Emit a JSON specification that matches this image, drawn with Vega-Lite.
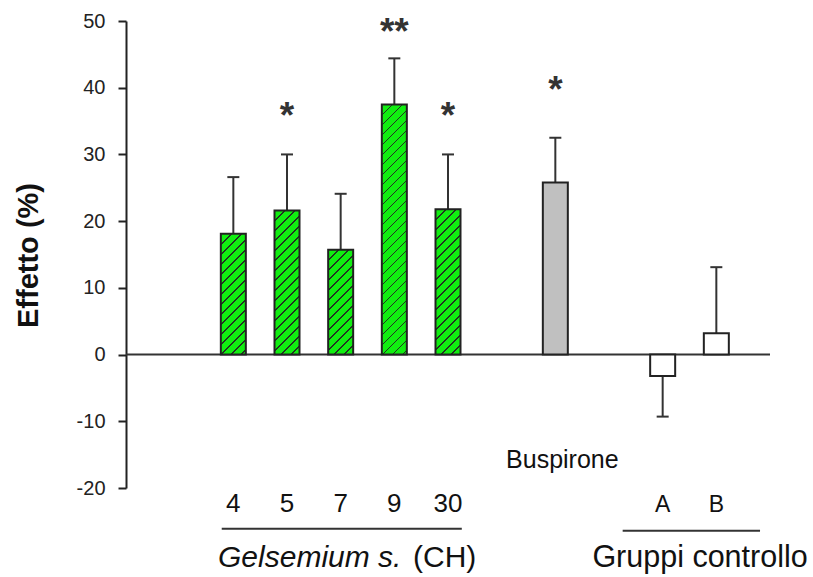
{
"$schema": "https://vega.github.io/schema/vega-lite/v6.json",
"width": 644, "height": 467,
"autosize": {"type": "none"},
"padding": {"left": 126, "top": 21, "right": 43, "bottom": 89},
"background": "white",
"config": {"view": {"stroke": null}, "font": "Liberation Sans"},
"resolve": {"axis": {"y": "independent", "x": "independent"}},
"data": {"values": [
{"name":"4","group":"Gelsemium","val":18.1,"err":26.6,"sig":""},
{"name":"5","group":"Gelsemium","val":21.6,"err":30.0,"sig":"*"},
{"name":"7","group":"Gelsemium","val":15.7,"err":24.1,"sig":""},
{"name":"9","group":"Gelsemium","val":37.5,"err":44.4,"sig":"**"},
{"name":"30","group":"Gelsemium","val":21.8,"err":30.0,"sig":"*"},
{"name":"Buspirone","group":"Buspirone","val":25.8,"err":32.5,"sig":"*"},
{"name":"A","group":"Controllo","val":-3.2,"err":-9.3,"sig":""},
{"name":"B","group":"Controllo","val":3.2,"err":13.1,"sig":""}
]},
"layer": [
{"data": {"values": [{}]}, "mark": {"type": "rule", "stroke": "#333", "strokeWidth": 2},
 "encoding": {"y": {"datum": 0, "type": "quantitative", "scale": {"domain": [-20, 50], "nice": false, "zero": false},
   "axis": {"values": [-20,-10,0,10,20,30,40,50], "labelExpr": "'' + datum.value", "title": "Effetto (%)", "titleFont": "Liberation Sans", "titleFontSize": 29, "titleFontWeight": "bold", "titleColor": "#111", "titleX": -89, "titleY": 234, "titleBaseline": "alphabetic", "titleAngle": -90, "titleAlign": "center",
    "labelFont": "Liberation Sans", "labelFontSize": 20, "labelColor": "#222", "labelPadding": 13, "tickSize": 8, "tickColor": "#222", "tickWidth": 2, "domainColor": "#222", "domainWidth": 2, "grid": false}}}},
{"mark": {"type": "rule", "stroke": "#333", "strokeWidth": 2},
 "encoding": {
  "x": {"field": "name", "type": "nominal", "scale": {"type": "point", "domain": ["g0","4","5","7","9","30","g1","Buspirone","g2","A","B"], "padding": 1, "align": 0.5}, "axis": null},
  "y": {"field": "val", "type": "quantitative", "scale": {"domain": [-20, 50], "nice": false, "zero": false}, "axis": null},
  "y2": {"field": "err"}}},
{"mark": {"type": "tick", "orient": "horizontal", "size": 12, "thickness": 2, "color": "#333", "opacity": 1},
 "encoding": {
  "x": {"field": "name", "type": "nominal", "scale": {"type": "point", "domain": ["g0","4","5","7","9","30","g1","Buspirone","g2","A","B"], "padding": 1, "align": 0.5}, "axis": null},
  "y": {"field": "err", "type": "quantitative", "scale": {"domain": [-20, 50], "nice": false, "zero": false}, "axis": null}}},
{"mark": {"type": "bar", "width": 25, "stroke": "#222", "strokeWidth": 2, "opacity": 1},
 "encoding": {
  "x": {"field": "name", "type": "nominal", "scale": {"type": "point", "domain": ["g0","4","5","7","9","30","g1","Buspirone","g2","A","B"], "padding": 1, "align": 0.5}, "axis": null},
  "y": {"field": "val", "type": "quantitative", "scale": {"domain": [-20, 50], "nice": false, "zero": false}, "axis": null},
  "y2": {"datum": 0},
  "fill": {"condition": [
   {"test": "datum.name==='4'", "value": {"gradient": "linear", "x1": 0, "y1": 0, "x2": 0.65762, "y2": 3.17639, "stops": [
{"offset":0,"color":"#1e1"},
{"offset":0.025,"color":"#1e1"},{"offset":0.025,"color":"#232"},{"offset":0.029,"color":"#232"},{"offset":0.029,"color":"#1e1"},
{"offset":0.05,"color":"#1e1"},{"offset":0.05,"color":"#232"},{"offset":0.054,"color":"#232"},{"offset":0.054,"color":"#1e1"},
{"offset":0.075,"color":"#1e1"},{"offset":0.075,"color":"#232"},{"offset":0.079,"color":"#232"},{"offset":0.079,"color":"#1e1"},
{"offset":0.1,"color":"#1e1"},{"offset":0.1,"color":"#232"},{"offset":0.104,"color":"#232"},{"offset":0.104,"color":"#1e1"},
{"offset":0.125,"color":"#1e1"},{"offset":0.125,"color":"#232"},{"offset":0.129,"color":"#232"},{"offset":0.129,"color":"#1e1"},
{"offset":0.15,"color":"#1e1"},{"offset":0.15,"color":"#232"},{"offset":0.154,"color":"#232"},{"offset":0.154,"color":"#1e1"},
{"offset":0.175,"color":"#1e1"},{"offset":0.175,"color":"#232"},{"offset":0.179,"color":"#232"},{"offset":0.179,"color":"#1e1"},
{"offset":0.2,"color":"#1e1"},{"offset":0.2,"color":"#232"},{"offset":0.204,"color":"#232"},{"offset":0.204,"color":"#1e1"},
{"offset":0.225,"color":"#1e1"},{"offset":0.225,"color":"#232"},{"offset":0.229,"color":"#232"},{"offset":0.229,"color":"#1e1"},
{"offset":0.25,"color":"#1e1"},{"offset":0.25,"color":"#232"},{"offset":0.254,"color":"#232"},{"offset":0.254,"color":"#1e1"},
{"offset":0.275,"color":"#1e1"},{"offset":0.275,"color":"#232"},{"offset":0.279,"color":"#232"},{"offset":0.279,"color":"#1e1"},
{"offset":0.3,"color":"#1e1"},{"offset":0.3,"color":"#232"},{"offset":0.304,"color":"#232"},{"offset":0.304,"color":"#1e1"},
{"offset":0.325,"color":"#1e1"},{"offset":0.325,"color":"#232"},{"offset":0.329,"color":"#232"},{"offset":0.329,"color":"#1e1"},
{"offset":0.35,"color":"#1e1"},{"offset":0.35,"color":"#232"},{"offset":0.354,"color":"#232"},{"offset":0.354,"color":"#1e1"},
{"offset":1,"color":"#1e1"}]}},
   {"test": "datum.name==='5'", "value": {"gradient": "linear", "x1": 0, "y1": 0, "x2": 0.46749, "y2": 2.69469, "stops": [
{"offset":0,"color":"#1e1"},
{"offset":0.025,"color":"#1e1"},{"offset":0.025,"color":"#232"},{"offset":0.029,"color":"#232"},{"offset":0.029,"color":"#1e1"},
{"offset":0.05,"color":"#1e1"},{"offset":0.05,"color":"#232"},{"offset":0.054,"color":"#232"},{"offset":0.054,"color":"#1e1"},
{"offset":0.075,"color":"#1e1"},{"offset":0.075,"color":"#232"},{"offset":0.079,"color":"#232"},{"offset":0.079,"color":"#1e1"},
{"offset":0.1,"color":"#1e1"},{"offset":0.1,"color":"#232"},{"offset":0.104,"color":"#232"},{"offset":0.104,"color":"#1e1"},
{"offset":0.125,"color":"#1e1"},{"offset":0.125,"color":"#232"},{"offset":0.129,"color":"#232"},{"offset":0.129,"color":"#1e1"},
{"offset":0.15,"color":"#1e1"},{"offset":0.15,"color":"#232"},{"offset":0.154,"color":"#232"},{"offset":0.154,"color":"#1e1"},
{"offset":0.175,"color":"#1e1"},{"offset":0.175,"color":"#232"},{"offset":0.179,"color":"#232"},{"offset":0.179,"color":"#1e1"},
{"offset":0.2,"color":"#1e1"},{"offset":0.2,"color":"#232"},{"offset":0.204,"color":"#232"},{"offset":0.204,"color":"#1e1"},
{"offset":0.225,"color":"#1e1"},{"offset":0.225,"color":"#232"},{"offset":0.229,"color":"#232"},{"offset":0.229,"color":"#1e1"},
{"offset":0.25,"color":"#1e1"},{"offset":0.25,"color":"#232"},{"offset":0.254,"color":"#232"},{"offset":0.254,"color":"#1e1"},
{"offset":0.275,"color":"#1e1"},{"offset":0.275,"color":"#232"},{"offset":0.279,"color":"#232"},{"offset":0.279,"color":"#1e1"},
{"offset":0.3,"color":"#1e1"},{"offset":0.3,"color":"#232"},{"offset":0.304,"color":"#232"},{"offset":0.304,"color":"#1e1"},
{"offset":0.325,"color":"#1e1"},{"offset":0.325,"color":"#232"},{"offset":0.329,"color":"#232"},{"offset":0.329,"color":"#1e1"},
{"offset":0.35,"color":"#1e1"},{"offset":0.35,"color":"#232"},{"offset":0.354,"color":"#232"},{"offset":0.354,"color":"#1e1"},
{"offset":0.375,"color":"#1e1"},{"offset":0.375,"color":"#232"},{"offset":0.379,"color":"#232"},{"offset":0.379,"color":"#1e1"},
{"offset":0.4,"color":"#1e1"},{"offset":0.4,"color":"#232"},{"offset":0.404,"color":"#232"},{"offset":0.404,"color":"#1e1"},
{"offset":1,"color":"#1e1"}]}},
   {"test": "datum.name==='7'", "value": {"gradient": "linear", "x1": 0, "y1": 0, "x2": 0.86239, "y2": 3.61311, "stops": [
{"offset":0,"color":"#1e1"},
{"offset":0.025,"color":"#1e1"},{"offset":0.025,"color":"#232"},{"offset":0.029,"color":"#232"},{"offset":0.029,"color":"#1e1"},
{"offset":0.05,"color":"#1e1"},{"offset":0.05,"color":"#232"},{"offset":0.054,"color":"#232"},{"offset":0.054,"color":"#1e1"},
{"offset":0.075,"color":"#1e1"},{"offset":0.075,"color":"#232"},{"offset":0.079,"color":"#232"},{"offset":0.079,"color":"#1e1"},
{"offset":0.1,"color":"#1e1"},{"offset":0.1,"color":"#232"},{"offset":0.104,"color":"#232"},{"offset":0.104,"color":"#1e1"},
{"offset":0.125,"color":"#1e1"},{"offset":0.125,"color":"#232"},{"offset":0.129,"color":"#232"},{"offset":0.129,"color":"#1e1"},
{"offset":0.15,"color":"#1e1"},{"offset":0.15,"color":"#232"},{"offset":0.154,"color":"#232"},{"offset":0.154,"color":"#1e1"},
{"offset":0.175,"color":"#1e1"},{"offset":0.175,"color":"#232"},{"offset":0.179,"color":"#232"},{"offset":0.179,"color":"#1e1"},
{"offset":0.2,"color":"#1e1"},{"offset":0.2,"color":"#232"},{"offset":0.204,"color":"#232"},{"offset":0.204,"color":"#1e1"},
{"offset":0.225,"color":"#1e1"},{"offset":0.225,"color":"#232"},{"offset":0.229,"color":"#232"},{"offset":0.229,"color":"#1e1"},
{"offset":0.25,"color":"#1e1"},{"offset":0.25,"color":"#232"},{"offset":0.254,"color":"#232"},{"offset":0.254,"color":"#1e1"},
{"offset":0.275,"color":"#1e1"},{"offset":0.275,"color":"#232"},{"offset":0.279,"color":"#232"},{"offset":0.279,"color":"#1e1"},
{"offset":0.3,"color":"#1e1"},{"offset":0.3,"color":"#232"},{"offset":0.304,"color":"#232"},{"offset":0.304,"color":"#1e1"},
{"offset":1,"color":"#1e1"}]}},
   {"test": "datum.name==='9'", "value": {"gradient": "linear", "x1": 0, "y1": 0, "x2": 0.15819, "y2": 1.58305, "stops": [
{"offset":0,"color":"#1e1"},
{"offset":0.025,"color":"#1e1"},{"offset":0.025,"color":"#232"},{"offset":0.029,"color":"#232"},{"offset":0.029,"color":"#1e1"},
{"offset":0.05,"color":"#1e1"},{"offset":0.05,"color":"#232"},{"offset":0.054,"color":"#232"},{"offset":0.054,"color":"#1e1"},
{"offset":0.075,"color":"#1e1"},{"offset":0.075,"color":"#232"},{"offset":0.079,"color":"#232"},{"offset":0.079,"color":"#1e1"},
{"offset":0.1,"color":"#1e1"},{"offset":0.1,"color":"#232"},{"offset":0.104,"color":"#232"},{"offset":0.104,"color":"#1e1"},
{"offset":0.125,"color":"#1e1"},{"offset":0.125,"color":"#232"},{"offset":0.129,"color":"#232"},{"offset":0.129,"color":"#1e1"},
{"offset":0.15,"color":"#1e1"},{"offset":0.15,"color":"#232"},{"offset":0.154,"color":"#232"},{"offset":0.154,"color":"#1e1"},
{"offset":0.175,"color":"#1e1"},{"offset":0.175,"color":"#232"},{"offset":0.179,"color":"#232"},{"offset":0.179,"color":"#1e1"},
{"offset":0.2,"color":"#1e1"},{"offset":0.2,"color":"#232"},{"offset":0.204,"color":"#232"},{"offset":0.204,"color":"#1e1"},
{"offset":0.225,"color":"#1e1"},{"offset":0.225,"color":"#232"},{"offset":0.229,"color":"#232"},{"offset":0.229,"color":"#1e1"},
{"offset":0.25,"color":"#1e1"},{"offset":0.25,"color":"#232"},{"offset":0.254,"color":"#232"},{"offset":0.254,"color":"#1e1"},
{"offset":0.275,"color":"#1e1"},{"offset":0.275,"color":"#232"},{"offset":0.279,"color":"#232"},{"offset":0.279,"color":"#1e1"},
{"offset":0.3,"color":"#1e1"},{"offset":0.3,"color":"#232"},{"offset":0.304,"color":"#232"},{"offset":0.304,"color":"#1e1"},
{"offset":0.325,"color":"#1e1"},{"offset":0.325,"color":"#232"},{"offset":0.329,"color":"#232"},{"offset":0.329,"color":"#1e1"},
{"offset":0.35,"color":"#1e1"},{"offset":0.35,"color":"#232"},{"offset":0.354,"color":"#232"},{"offset":0.354,"color":"#1e1"},
{"offset":0.375,"color":"#1e1"},{"offset":0.375,"color":"#232"},{"offset":0.379,"color":"#232"},{"offset":0.379,"color":"#1e1"},
{"offset":0.4,"color":"#1e1"},{"offset":0.4,"color":"#232"},{"offset":0.404,"color":"#232"},{"offset":0.404,"color":"#1e1"},
{"offset":0.425,"color":"#1e1"},{"offset":0.425,"color":"#232"},{"offset":0.429,"color":"#232"},{"offset":0.429,"color":"#1e1"},
{"offset":0.45,"color":"#1e1"},{"offset":0.45,"color":"#232"},{"offset":0.454,"color":"#232"},{"offset":0.454,"color":"#1e1"},
{"offset":0.475,"color":"#1e1"},{"offset":0.475,"color":"#232"},{"offset":0.479,"color":"#232"},{"offset":0.479,"color":"#1e1"},
{"offset":0.5,"color":"#1e1"},{"offset":0.5,"color":"#232"},{"offset":0.504,"color":"#232"},{"offset":0.504,"color":"#1e1"},
{"offset":0.525,"color":"#1e1"},{"offset":0.525,"color":"#232"},{"offset":0.529,"color":"#232"},{"offset":0.529,"color":"#1e1"},
{"offset":0.55,"color":"#1e1"},{"offset":0.55,"color":"#232"},{"offset":0.554,"color":"#232"},{"offset":0.554,"color":"#1e1"},
{"offset":0.575,"color":"#1e1"},{"offset":0.575,"color":"#232"},{"offset":0.579,"color":"#232"},{"offset":0.579,"color":"#1e1"},
{"offset":0.6,"color":"#1e1"},{"offset":0.6,"color":"#232"},{"offset":0.604,"color":"#232"},{"offset":0.604,"color":"#1e1"},
{"offset":0.625,"color":"#1e1"},{"offset":0.625,"color":"#232"},{"offset":0.629,"color":"#232"},{"offset":0.629,"color":"#1e1"},
{"offset":0.65,"color":"#1e1"},{"offset":0.65,"color":"#232"},{"offset":0.654,"color":"#232"},{"offset":0.654,"color":"#1e1"},
{"offset":0.675,"color":"#1e1"},{"offset":0.675,"color":"#232"},{"offset":0.679,"color":"#232"},{"offset":0.679,"color":"#1e1"},
{"offset":1,"color":"#1e1"}]}},
   {"test": "datum.name==='30'", "value": {"gradient": "linear", "x1": 0, "y1": 0, "x2": 0.4592, "y2": 2.6714, "stops": [
{"offset":0,"color":"#1e1"},
{"offset":0.025,"color":"#1e1"},{"offset":0.025,"color":"#232"},{"offset":0.029,"color":"#232"},{"offset":0.029,"color":"#1e1"},
{"offset":0.05,"color":"#1e1"},{"offset":0.05,"color":"#232"},{"offset":0.054,"color":"#232"},{"offset":0.054,"color":"#1e1"},
{"offset":0.075,"color":"#1e1"},{"offset":0.075,"color":"#232"},{"offset":0.079,"color":"#232"},{"offset":0.079,"color":"#1e1"},
{"offset":0.1,"color":"#1e1"},{"offset":0.1,"color":"#232"},{"offset":0.104,"color":"#232"},{"offset":0.104,"color":"#1e1"},
{"offset":0.125,"color":"#1e1"},{"offset":0.125,"color":"#232"},{"offset":0.129,"color":"#232"},{"offset":0.129,"color":"#1e1"},
{"offset":0.15,"color":"#1e1"},{"offset":0.15,"color":"#232"},{"offset":0.154,"color":"#232"},{"offset":0.154,"color":"#1e1"},
{"offset":0.175,"color":"#1e1"},{"offset":0.175,"color":"#232"},{"offset":0.179,"color":"#232"},{"offset":0.179,"color":"#1e1"},
{"offset":0.2,"color":"#1e1"},{"offset":0.2,"color":"#232"},{"offset":0.204,"color":"#232"},{"offset":0.204,"color":"#1e1"},
{"offset":0.225,"color":"#1e1"},{"offset":0.225,"color":"#232"},{"offset":0.229,"color":"#232"},{"offset":0.229,"color":"#1e1"},
{"offset":0.25,"color":"#1e1"},{"offset":0.25,"color":"#232"},{"offset":0.254,"color":"#232"},{"offset":0.254,"color":"#1e1"},
{"offset":0.275,"color":"#1e1"},{"offset":0.275,"color":"#232"},{"offset":0.279,"color":"#232"},{"offset":0.279,"color":"#1e1"},
{"offset":0.3,"color":"#1e1"},{"offset":0.3,"color":"#232"},{"offset":0.304,"color":"#232"},{"offset":0.304,"color":"#1e1"},
{"offset":0.325,"color":"#1e1"},{"offset":0.325,"color":"#232"},{"offset":0.329,"color":"#232"},{"offset":0.329,"color":"#1e1"},
{"offset":0.35,"color":"#1e1"},{"offset":0.35,"color":"#232"},{"offset":0.354,"color":"#232"},{"offset":0.354,"color":"#1e1"},
{"offset":0.375,"color":"#1e1"},{"offset":0.375,"color":"#232"},{"offset":0.379,"color":"#232"},{"offset":0.379,"color":"#1e1"},
{"offset":0.4,"color":"#1e1"},{"offset":0.4,"color":"#232"},{"offset":0.404,"color":"#232"},{"offset":0.404,"color":"#1e1"},
{"offset":0.425,"color":"#1e1"},{"offset":0.425,"color":"#232"},{"offset":0.429,"color":"#232"},{"offset":0.429,"color":"#1e1"},
{"offset":1,"color":"#1e1"}]}},
   {"test": "datum.name==='Buspirone'", "value": "#c0c0c0"}
  ], "value": "#ffffff"}}},
{"transform": [{"filter": "datum.group==='Gelsemium' && datum.sig==='*'"}],
 "mark": {"type": "text", "fontSize": 37, "fontWeight": "bold", "color": "#333", "baseline": "alphabetic", "dy": -26},
 "encoding": {
  "x": {"field": "name", "type": "nominal", "scale": {"type": "point", "domain": ["g0","4","5","7","9","30","g1","Buspirone","g2","A","B"], "padding": 1, "align": 0.5}, "axis": null},
  "y": {"field": "err", "type": "quantitative", "scale": {"domain": [-20, 50], "nice": false, "zero": false}, "axis": null},
  "text": {"field": "sig"}}},
{"transform": [{"filter": "datum.sig==='**'"}],
 "mark": {"type": "text", "fontSize": 37, "fontWeight": "bold", "color": "#333", "baseline": "alphabetic", "dy": -14},
 "encoding": {
  "x": {"field": "name", "type": "nominal", "scale": {"type": "point", "domain": ["g0","4","5","7","9","30","g1","Buspirone","g2","A","B"], "padding": 1, "align": 0.5}, "axis": null},
  "y": {"field": "err", "type": "quantitative", "scale": {"domain": [-20, 50], "nice": false, "zero": false}, "axis": null},
  "text": {"field": "sig"}}},
{"transform": [{"filter": "datum.group==='Buspirone'"}],
 "mark": {"type": "text", "fontSize": 37, "fontWeight": "bold", "color": "#333", "baseline": "alphabetic", "dy": -36},
 "encoding": {
  "x": {"field": "name", "type": "nominal", "scale": {"type": "point", "domain": ["g0","4","5","7","9","30","g1","Buspirone","g2","A","B"], "padding": 1, "align": 0.5}, "axis": null},
  "y": {"field": "err", "type": "quantitative", "scale": {"domain": [-20, 50], "nice": false, "zero": false}, "axis": null},
  "text": {"field": "sig"}}},
{"transform": [{"filter": "datum.group==='Gelsemium'"}],
 "mark": {"type": "text", "fontSize": 26, "color": "#111", "baseline": "alphabetic", "dy": 24},
 "encoding": {
  "x": {"field": "name", "type": "nominal", "scale": {"type": "point", "domain": ["g0","4","5","7","9","30","g1","Buspirone","g2","A","B"], "padding": 1, "align": 0.5}, "axis": null},
  "y": {"datum": -20, "type": "quantitative", "scale": {"domain": [-20, 50], "nice": false, "zero": false}, "axis": null},
  "text": {"field": "name"}}},
{"transform": [{"filter": "datum.group==='Controllo'"}],
 "mark": {"type": "text", "fontSize": 23, "color": "#111", "baseline": "alphabetic", "dy": 24},
 "encoding": {
  "x": {"field": "name", "type": "nominal", "scale": {"type": "point", "domain": ["g0","4","5","7","9","30","g1","Buspirone","g2","A","B"], "padding": 1, "align": 0.5}, "axis": null},
  "y": {"datum": -20, "type": "quantitative", "scale": {"domain": [-20, 50], "nice": false, "zero": false}, "axis": null},
  "text": {"field": "name"}}},
{"transform": [{"filter": "datum.group==='Buspirone'"}],
 "mark": {"type": "text", "fontSize": 25, "color": "#111", "baseline": "alphabetic", "dy": -20, "dx": 7},
 "encoding": {
  "x": {"field": "name", "type": "nominal", "scale": {"type": "point", "domain": ["g0","4","5","7","9","30","g1","Buspirone","g2","A","B"], "padding": 1, "align": 0.5}, "axis": null},
  "y": {"datum": -20, "type": "quantitative", "scale": {"domain": [-20, 50], "nice": false, "zero": false}, "axis": null},
  "text": {"field": "name"}}},
{"data": {"values": [{}]}, "mark": {"type": "rule", "stroke": "#333", "strokeWidth": 2, "xOffset": -11.6, "x2Offset": 13.8},
 "encoding": {
  "x": {"datum": "4", "type": "nominal", "scale": {"type": "point", "domain": ["g0","4","5","7","9","30","g1","Buspirone","g2","A","B"], "padding": 1, "align": 0.5}, "axis": null},
  "x2": {"datum": "30"},
  "y": {"datum": -26.1, "type": "quantitative", "scale": {"domain": [-20, 50], "nice": false, "zero": false}, "axis": null}}},
{"data": {"values": [{}]}, "mark": {"type": "rule", "stroke": "#333", "strokeWidth": 2, "xOffset": -40, "x2Offset": 43.7},
 "encoding": {
  "x": {"datum": "A", "type": "nominal", "scale": {"type": "point", "domain": ["g0","4","5","7","9","30","g1","Buspirone","g2","A","B"], "padding": 1, "align": 0.5}, "axis": null},
  "x2": {"datum": "B"},
  "y": {"datum": -26.4, "type": "quantitative", "scale": {"domain": [-20, 50], "nice": false, "zero": false}, "axis": null}}},
{"data": {"values": [{}]}, "mark": {"type": "text", "fontSize": 30, "fontStyle": "italic", "color": "#111", "align": "left", "baseline": "alphabetic", "dx": -15.3},
 "encoding": {
  "x": {"datum": "4", "type": "nominal", "scale": {"type": "point", "domain": ["g0","4","5","7","9","30","g1","Buspirone","g2","A","B"], "padding": 1, "align": 0.5}, "axis": null},
  "y": {"datum": -31.85, "type": "quantitative", "scale": {"domain": [-20, 50], "nice": false, "zero": false}, "axis": null},
  "text": {"value": "Gelsemium s."}}},
{"data": {"values": [{}]}, "mark": {"type": "text", "fontSize": 30, "color": "#111", "align": "left", "baseline": "alphabetic", "dx": -35},
 "encoding": {
  "x": {"datum": "30", "type": "nominal", "scale": {"type": "point", "domain": ["g0","4","5","7","9","30","g1","Buspirone","g2","A","B"], "padding": 1, "align": 0.5}, "axis": null},
  "y": {"datum": -31.85, "type": "quantitative", "scale": {"domain": [-20, 50], "nice": false, "zero": false}, "axis": null},
  "text": {"value": "(CH)"}}},
{"data": {"values": [{}]}, "mark": {"type": "text", "fontSize": 30.5, "color": "#111", "align": "center", "baseline": "alphabetic", "dx": -16.3},
 "encoding": {
  "x": {"datum": "B", "type": "nominal", "scale": {"type": "point", "domain": ["g0","4","5","7","9","30","g1","Buspirone","g2","A","B"], "padding": 1, "align": 0.5}, "axis": null},
  "y": {"datum": -31.85, "type": "quantitative", "scale": {"domain": [-20, 50], "nice": false, "zero": false}, "axis": null},
  "text": {"value": "Gruppi controllo"}}}
]
}
